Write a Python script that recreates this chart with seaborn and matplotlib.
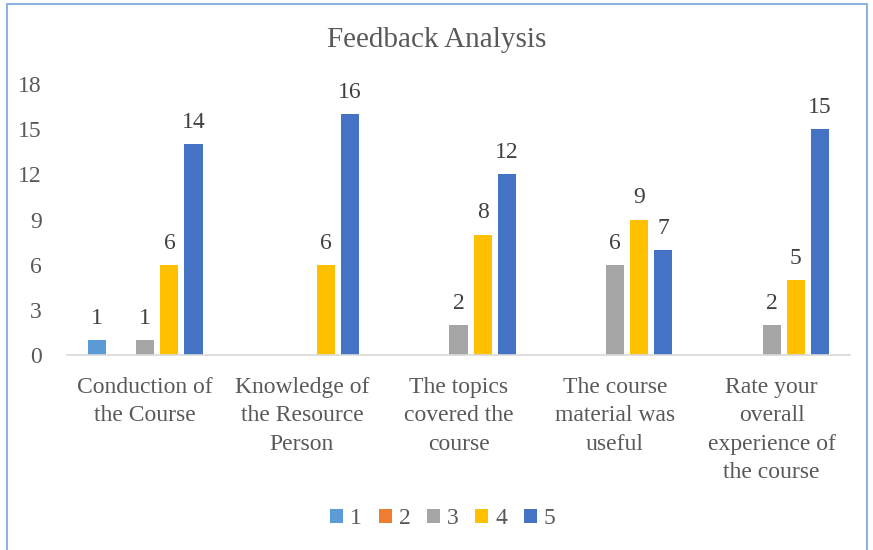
import pandas as pd
import matplotlib
matplotlib.use('Agg')
import matplotlib.pyplot as plt
import seaborn as sns
from matplotlib.patches import Patch
from matplotlib.lines import Line2D

# DATA --------
categories = ['Conduction of\nthe Course', 'Knowledge of\nthe Resource\nPerson',
              'The topics\ncovered the\ncourse', 'The course\nmaterial was\nuseful',
              'Rate your\noverall\nexperience of\nthe course']
ratings = ['1', '2', '3', '4', '5']
rating_1 = [1, 0, 0, 0, 0]
rating_2 = [0, 0, 0, 0, 0]
rating_3 = [1, 0, 2, 6, 2]
rating_4 = [6, 6, 8, 9, 5]
rating_5 = [14, 16, 12, 7, 15]
colors = ['#5B9BD5', '#ED7D31', '#A5A5A5', '#FFC000', '#4472C4']
# -------------

series = [rating_1, rating_2, rating_3, rating_4, rating_5]
rows = []
for r, vals in zip(ratings, series):
    for c, v in zip(categories, vals):
        rows.append({'category': c, 'rating': r, 'count': v})
df = pd.DataFrame(rows)

sns.set_style('white')
plt.rcParams['font.family'] = ['Liberation Serif', 'DejaVu Serif']
txt = '#595959'

fig = plt.figure(figsize=(8.73, 5.5), dpi=100)
ax = fig.add_axes([67/873, 1-355/550, (850-67)/873, (355-84)/550])

sns.barplot(data=df, x='category', y='count', hue='rating', order=categories,
            hue_order=ratings, palette=colors, width=0.77, gap=0.25,
            linewidth=0, saturation=1, ax=ax, legend=False)

for cont, vals in zip(ax.containers, series):
    labels = [str(v) if v > 0 else '' for v in vals]
    ax.bar_label(cont, labels=labels, padding=8, fontsize=17, color='#404040')

ax.set_ylim(0, 18)
ax.set_xlim(-0.5, 4.5)
ax.set_yticks(range(0, 19, 3))
ax.set_xlabel('')
ax.set_ylabel('')
ax.tick_params(axis='both', length=0, labelsize=17, labelcolor=txt)
ax.tick_params(axis='x', pad=16)
for lab in ax.get_xticklabels():
    lab.set_linespacing(1.45)
    lab.set_fontsize(17)
ax.tick_params(axis='y', pad=18)
for s in ['top', 'right', 'left']:
    ax.spines[s].set_visible(False)
ax.spines['bottom'].set_color('#D9D9D9')
ax.spines['bottom'].set_linewidth(1.2)

fig.text(0.5, 1-40/550, 'Feedback Analysis', ha='center', va='center',
         fontsize=21, color=txt)

handles = [Patch(facecolor=c, edgecolor='none') for c in colors]
fig.legend(handles, ratings, loc='center', bbox_to_anchor=(443/873, 1-519/550),
           ncol=5, frameon=False, fontsize=17, handlelength=0.55, handleheight=0.55,
           handletextpad=0.3, columnspacing=0.7, labelcolor=txt)

# chart frame
frame_c = '#8DB3E2'
fig.add_artist(Line2D([7/873, 7/873], [0, 1-4/550], color=frame_c, lw=1.5))
fig.add_artist(Line2D([867/873, 867/873], [0, 1-4/550], color=frame_c, lw=1.5))
fig.add_artist(Line2D([7/873, 867/873], [1-4/550, 1-4/550], color=frame_c, lw=1.5))

fig.savefig('out.png', dpi=100)
